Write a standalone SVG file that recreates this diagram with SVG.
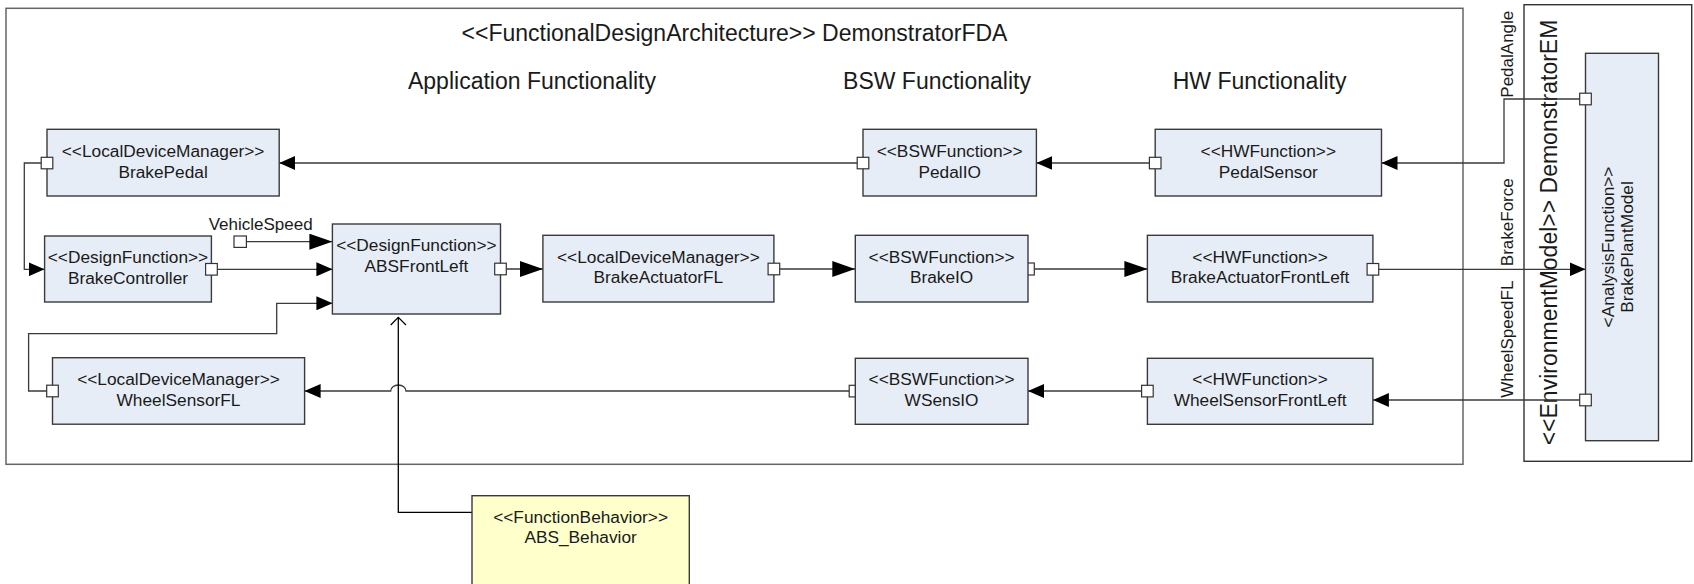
<svg xmlns="http://www.w3.org/2000/svg" width="1694" height="584" viewBox="0 0 1694 584">
<style>
.bg{fill:#ffffff}
.frame{fill:none;stroke:#666;stroke-width:1.5}
.frame2{fill:none;stroke:#333;stroke-width:1.4}
.box{fill:#E7EDF7;stroke:#3a3a3a;stroke-width:1.4}
.beh{fill:#FFFFCC;stroke:#3a3a3a;stroke-width:1.4}
.port{fill:#ffffff;stroke:#333;stroke-width:1.2}
.c{fill:none;stroke:#3a3a3a;stroke-width:1.3}
.t{font-family:"Liberation Sans",Arial,sans-serif;font-size:17.3px;fill:#1a1a1a;text-anchor:middle}
.h{font-family:"Liberation Sans",Arial,sans-serif;font-size:23px;fill:#1a1a1a;text-anchor:middle}
.lbl{font-family:"Liberation Sans",Arial,sans-serif;font-size:17px;fill:#1a1a1a;text-anchor:middle}
</style>
<defs>
<marker id="as" viewBox="0 0 16 14" refX="16" refY="7" markerWidth="16" markerHeight="14" orient="auto" markerUnits="userSpaceOnUse"><path d="M0,0 L16,7 L0,14 z" fill="#000"/></marker>
<marker id="ab" viewBox="0 0 23 16" refX="23" refY="8" markerWidth="23" markerHeight="16" orient="auto" markerUnits="userSpaceOnUse"><path d="M0,0 L23,8 L0,16 z" fill="#000"/></marker>
</defs>
<rect class="bg" x="0" y="0" width="1694" height="584"/>

<g id="frame-fda">
<rect class="frame" x="6" y="8.3" width="1457" height="456"/>
<text class="h" x="734.5" y="40.7">&lt;&lt;FunctionalDesignArchitecture&gt;&gt; DemonstratorFDA</text>
<text class="h" x="532" y="89.3">Application Functionality</text>
<text class="h" x="937" y="89.3">BSW Functionality</text>
<text class="h" x="1259.6" y="89.3">HW Functionality</text>
</g>

<g id="frame-em">
<rect class="frame2" x="1524" y="4.7" width="167.7" height="456.6"/>
<text class="h" transform="translate(1556.7,232.5) rotate(-90)" x="0" y="0">&lt;&lt;EnvironmentModel&gt;&gt; DemonstratorEM</text>
</g>

<g id="connectors">
<path class="c" d="M857.2,163 H279.2" marker-end="url(#as)"/>
<path class="c" d="M1149.4,163 H1036.4" marker-end="url(#as)"/>
<path class="c" d="M1579.7,99 H1504 V163 H1381.5" marker-end="url(#as)"/>
<path class="c" d="M41.2,163 H24.3 V269.3 H44.6" marker-end="url(#as)"/>
<path class="c" d="M217.3,269.3 H332.4" marker-end="url(#as)"/>
<path class="c" d="M246.4,241.7 H332.4" marker-end="url(#ab)"/>
<path class="c" d="M46.7,391 H28.6 V333.7 H276.7 V303.3 H332.4" marker-end="url(#as)"/>
<path class="c" d="M506.3,269 H542.9" marker-end="url(#ab)"/>
<path class="c" d="M779.7,269 H855.3" marker-end="url(#ab)"/>
<path class="c" d="M1034.3,269 H1147.4" marker-end="url(#ab)"/>
<path class="c" d="M1378.7,269.3 H1585.5" marker-end="url(#as)"/>
<path class="c" d="M1579.7,400 H1372.9" marker-end="url(#as)"/>
<path class="c" d="M1141.6,391 H1028" marker-end="url(#as)"/>
<path class="c" d="M849.2,391 H406 A7.65,6 0 0 0 390.7,391 H304.6" marker-end="url(#as)"/>
<path class="c" d="M472,512.3 H398.3 V317.3" style="stroke:#000"/>
<polyline class="c" points="390.7,325 398.3,317.3 406,325" style="stroke:#000"/>
<text class="lbl" x="260.7" y="230">VehicleSpeed</text>
<rect class="port" x="234" y="236" width="12.4" height="11.4"/>
<text class="lbl" transform="translate(1513.3,54.2) rotate(-90)">PedalAngle</text>
<text class="lbl" transform="translate(1513.3,222.2) rotate(-90)">BrakeForce</text>
<text class="lbl" transform="translate(1513.3,339.2) rotate(-90)">WheelSpeedFL</text>
</g>

<g id="BrakePedal">
<rect class="box" x="47" y="129.3" width="232.2" height="66.7"/>
<rect class="port" x="41.2" y="157.3" width="11.6" height="11.5"/>
<text class="t" x="163.1" y="157.3">&lt;&lt;LocalDeviceManager&gt;&gt;</text>
<text class="t" x="163.1" y="178.3">BrakePedal</text>
</g>

<g id="PedalIO">
<rect class="box" x="863" y="129.3" width="173.4" height="66.7"/>
<rect class="port" x="857.2" y="157.3" width="11.6" height="11.5"/>
<text class="t" x="949.7" y="157.3">&lt;&lt;BSWFunction&gt;&gt;</text>
<text class="t" x="949.7" y="178.3">PedalIO</text>
</g>

<g id="PedalSensor">
<rect class="box" x="1155.2" y="129.3" width="226.3" height="66.7"/>
<rect class="port" x="1149.4" y="157.3" width="11.6" height="11.5"/>
<text class="t" x="1268.3" y="157.3">&lt;&lt;HWFunction&gt;&gt;</text>
<text class="t" x="1268.3" y="178.3">PedalSensor</text>
</g>

<g id="BrakeController">
<rect class="box" x="44.6" y="236" width="166.8" height="66"/>
<rect class="port" x="205.6" y="263.5" width="11.7" height="11.6"/>
<text class="t" x="128" y="263.3">&lt;&lt;DesignFunction&gt;&gt;</text>
<text class="t" x="128" y="284">BrakeController</text>
</g>

<g id="ABSFrontLeft">
<rect class="box" x="332.4" y="224" width="168.1" height="90"/>
<rect class="port" x="494.7" y="263.2" width="11.6" height="11.6"/>
<text class="t" x="416.4" y="250.7">&lt;&lt;DesignFunction&gt;&gt;</text>
<text class="t" x="416.4" y="271.7">ABSFrontLeft</text>
</g>

<g id="BrakeActuatorFL">
<rect class="box" x="542.9" y="235.3" width="231" height="66.7"/>
<rect class="port" x="768.1" y="263.2" width="11.6" height="11.6"/>
<text class="t" x="658.4" y="263.3">&lt;&lt;LocalDeviceManager&gt;&gt;</text>
<text class="t" x="658.4" y="283.3">BrakeActuatorFL</text>
</g>

<g id="BrakeIO">
<rect class="port" x="1022" y="263" width="12.3" height="12"/>
<rect class="box" x="855.3" y="235.3" width="172.7" height="66.7"/>
<text class="t" x="941.6" y="263.3">&lt;&lt;BSWFunction&gt;&gt;</text>
<text class="t" x="941.6" y="283.3">BrakeIO</text>
</g>

<g id="BrakeActuatorFrontLeft">
<rect class="box" x="1147.4" y="235.3" width="225.5" height="66.7"/>
<rect class="port" x="1367.1" y="263.5" width="11.6" height="11.6"/>
<text class="t" x="1260.1" y="263.3">&lt;&lt;HWFunction&gt;&gt;</text>
<text class="t" x="1260.1" y="283.3">BrakeActuatorFrontLeft</text>
</g>

<g id="WheelSensorFL">
<rect class="box" x="52.5" y="357.7" width="252.1" height="66.5"/>
<rect class="port" x="46.7" y="385.2" width="11.6" height="11.6"/>
<text class="t" x="178.5" y="385">&lt;&lt;LocalDeviceManager&gt;&gt;</text>
<text class="t" x="178.5" y="406">WheelSensorFL</text>
</g>

<g id="WSensIO">
<rect class="port" x="849.2" y="385.3" width="12" height="11.6"/>
<rect class="box" x="855.3" y="358.3" width="172.7" height="66"/>
<text class="t" x="941.6" y="385">&lt;&lt;BSWFunction&gt;&gt;</text>
<text class="t" x="941.6" y="406">WSensIO</text>
</g>

<g id="WheelSensorFrontLeft">
<rect class="box" x="1147.4" y="358.3" width="225.5" height="66"/>
<rect class="port" x="1141.6" y="385.3" width="11.6" height="11.6"/>
<text class="t" x="1260.1" y="385">&lt;&lt;HWFunction&gt;&gt;</text>
<text class="t" x="1260.1" y="406">WheelSensorFrontLeft</text>
</g>

<g id="BrakePlantModel">
<rect class="box" x="1585.5" y="53.3" width="73" height="387.4"/>
<rect class="port" x="1579.7" y="93.2" width="11.6" height="11.6"/>
<rect class="port" x="1579.7" y="394.2" width="11.6" height="11.6"/>
<text class="t" transform="translate(1614,247) rotate(-90)">&lt;AnalysisFunction&gt;&gt;</text>
<text class="t" transform="translate(1633.3,247) rotate(-90)">BrakePlantModel</text>
</g>

<g id="ABS_Behavior">
<rect class="beh" x="472" y="495.7" width="217.3" height="100"/>
<text class="t" x="580.6" y="522.7">&lt;&lt;FunctionBehavior&gt;&gt;</text>
<text class="t" x="580.6" y="542.7">ABS_Behavior</text>
</g>
</svg>
